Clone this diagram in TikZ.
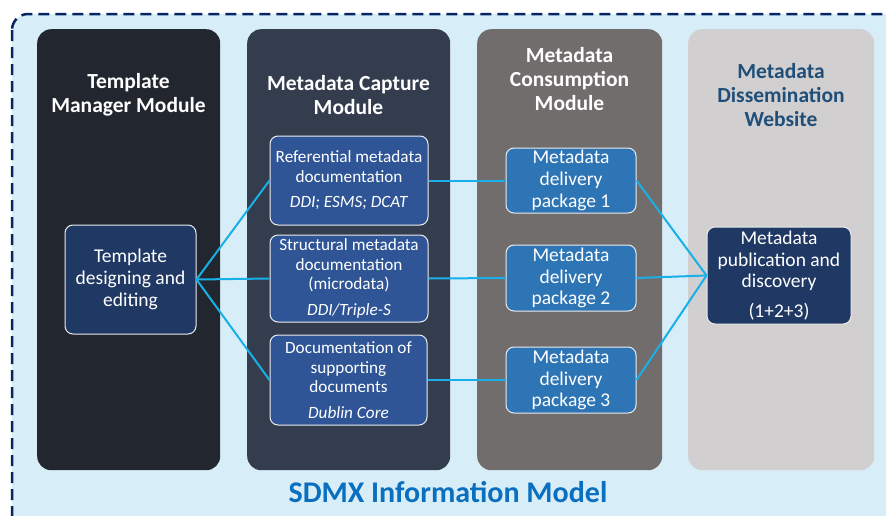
\documentclass[tikz,border=0pt]{standalone}
\usepackage{fontspec}
\setmainfont{Carlito}
\definecolor{bgblue}{HTML}{D7EEF8}
\definecolor{dashnavy}{HTML}{0A2463}
\definecolor{colA}{HTML}{22272F}
\definecolor{colB}{HTML}{343D4E}
\definecolor{colC}{HTML}{716D6C}
\definecolor{colD}{HTML}{D1CFD0}
\definecolor{darkbox}{HTML}{203864}
\definecolor{capbox}{HTML}{2F5597}
\definecolor{pkgbox}{HTML}{2E75B6}
\definecolor{link}{HTML}{19AFE8}
\definecolor{webtitle}{HTML}{1F4E79}
\definecolor{sdmx}{HTML}{0B6FBF}
\tikzset{
  column/.style={rounded corners=14pt, inner sep=0pt, anchor=north west},
  coltitle/.style={text=white, font=\bfseries\fontsize{21.5}{24}\selectfont, align=center, inner sep=0pt},
  ibox/.style={draw=white!85!gray, line width=1pt, rounded corners=8pt, text=white, align=center, inner sep=0pt},
  small/.style={font=\fontsize{17.2}{19.5}\selectfont},
  big/.style={font=\fontsize{19.5}{21.7}\selectfont},
  conn/.style={draw=link, line width=2pt},
}
\begin{document}
\begin{tikzpicture}[x=1pt,y=-1pt]
\useasboundingbox (0,0) rectangle (886,515);
\begin{scope}
\clip (0,0) rectangle (886,515);
\path[fill=bgblue, draw=dashnavy, line width=2.5pt, dash pattern=on 11pt off 6pt, rounded corners=16pt] (12,14) rectangle (905,535);
\end{scope}

% columns
\node[column, fill=colA, minimum width=183pt, minimum height=441pt] (c1) at (37,29) {};
\node[column, fill=colB, minimum width=203pt, minimum height=441pt] (c2) at (247,29) {};
\node[column, fill=colC, minimum width=185pt, minimum height=441pt] (c3) at (477,29) {};
\node[column, fill=colD, minimum width=186pt, minimum height=441pt] (c4) at (688,29) {};

% titles
\node[coltitle] (t1) at (128.5,95) {Template\\Manager Module};
\node[coltitle] (t2) at (348.5,95) {Metadata Capture\\Module};
\node[coltitle] (t3) at (569.5,79) {Metadata\\Consumption\\Module};
\node[coltitle, text=webtitle] (t4) at (781,95) {Metadata\\Dissemination\\Website};

% boxes
\node[ibox, big, fill=darkbox, minimum width=131pt, minimum height=109pt] (tmpl) at (130.5,279.5) {Template\\designing and\\editing};

\node[ibox, small, fill=capbox, minimum width=158pt, minimum height=89pt] (ref) at (349,180.5) {Referential metadata\\documentation\\[6pt]\textit{DDI; ESMS; DCAT}};
\node[ibox, small, fill=capbox, minimum width=158pt, minimum height=87pt] (str) at (349,278.5) {Structural metadata\\documentation\\(microdata)\\[6pt]\textit{DDI/Triple-S}};
\node[ibox, small, fill=capbox, minimum width=157pt, minimum height=90pt] (doc) at (348.5,380) {Documentation of\\supporting\\documents\\[6pt]\textit{Dublin Core}};

\node[ibox, big, fill=pkgbox, minimum width=130pt, minimum height=65pt] (p1) at (571,180.5) {Metadata\\delivery\\package 1};
\node[ibox, big, fill=pkgbox, minimum width=130pt, minimum height=66pt] (p2) at (571,278) {Metadata\\delivery\\package 2};
\node[ibox, big, fill=pkgbox, minimum width=130pt, minimum height=66pt] (p3) at (571,380) {Metadata\\delivery\\package 3};

\node[ibox, big, fill=darkbox, minimum width=144pt, minimum height=97pt] (pub) at (779,275.5) {Metadata\\publication and\\discovery\\[8pt](1+2+3)};

% connectors
\draw[conn] (tmpl.east) -- (ref.west);
\draw[conn] (tmpl.east) -- (str.west);
\draw[conn] (tmpl.east) -- (doc.west);
\draw[conn] (ref.east) -- (p1.west);
\draw[conn] (str.east) -- (p2.west);
\draw[conn] (doc.east) -- (p3.west);
\draw[conn] (p1.east) -- (pub.west);
\draw[conn] (p2.east) -- (pub.west);
\draw[conn] (p3.east) -- (pub.west);

\node[text=sdmx, font=\bfseries\fontsize{30}{32}\selectfont, inner sep=0pt] (sdmxt) at (448,492) {SDMX Information Model};
\end{tikzpicture}
\end{document}
